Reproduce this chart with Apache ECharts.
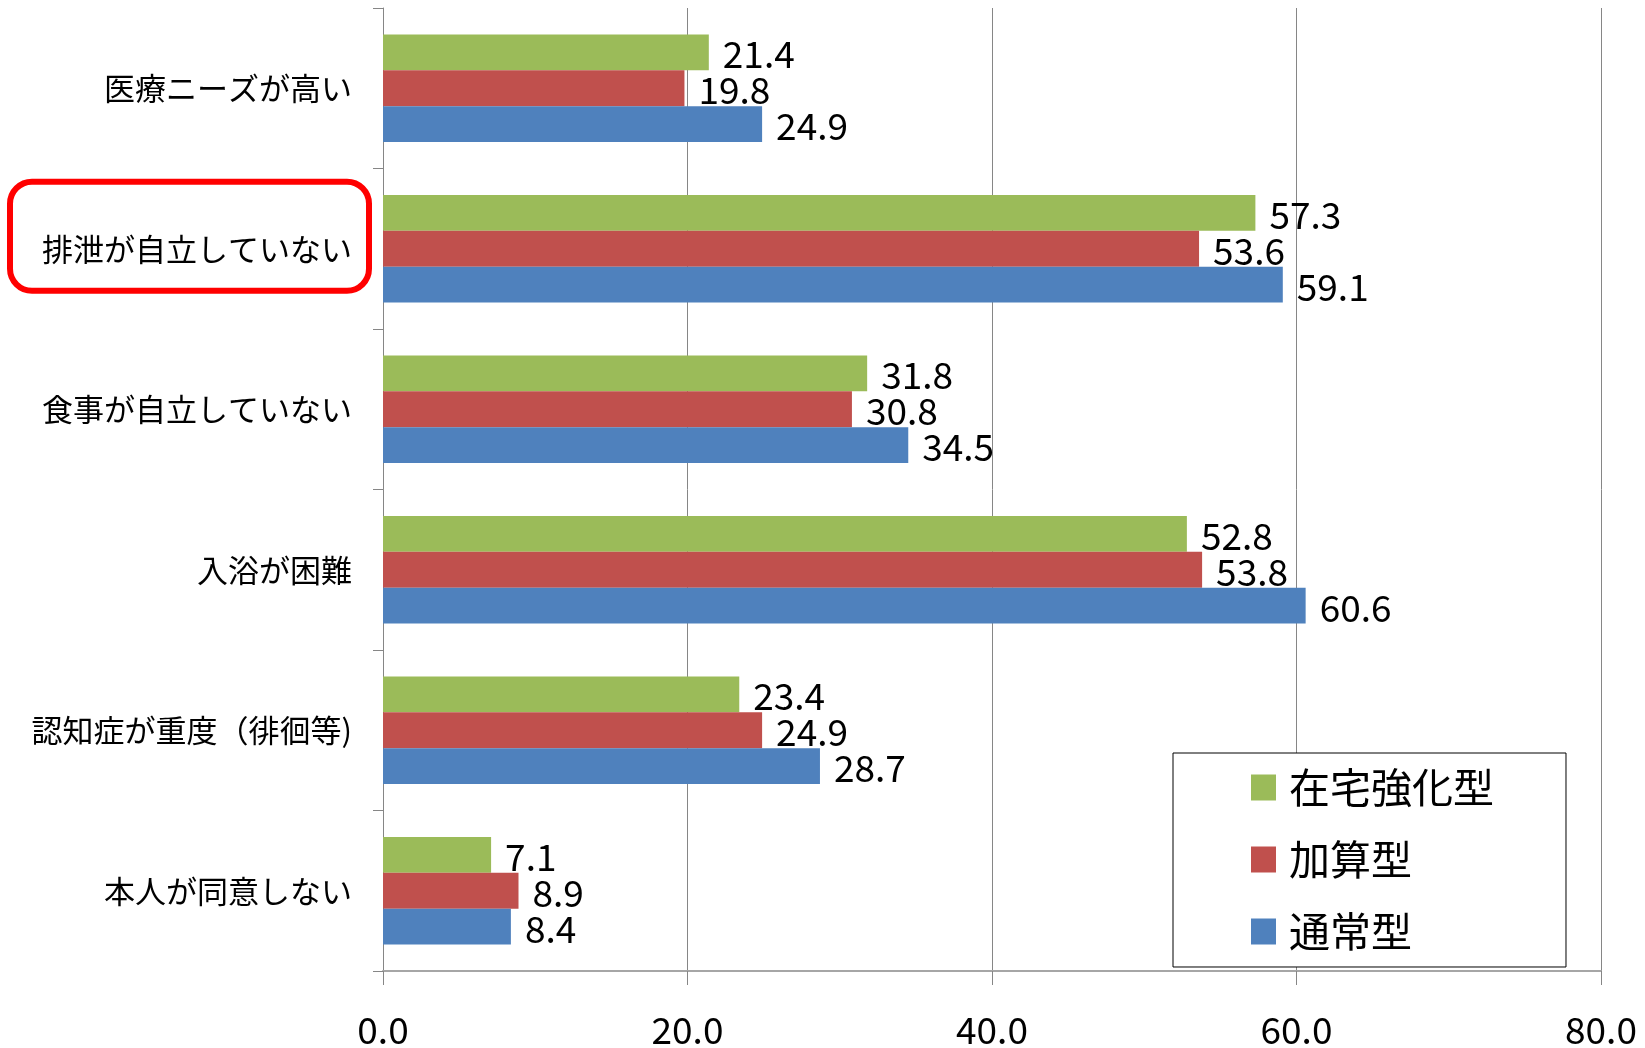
<!DOCTYPE html>
<html>
<head>
<meta charset="utf-8">
<script src="https://cdn.jsdelivr.net/npm/echarts@6/dist/echarts.min.js"></script>
<style>
html,body{margin:0;padding:0;background:#fff;}
#chart{width:1645px;height:1048px;}
</style>
</head>
<body>
<div id="chart"></div>
<script>
const categories = ['医療ニーズが高い', '排泄が自立していない', '食事が自立していない', '入浴が困難', '認知症が重度（徘徊等)', '本人が同意しない'];
const seriesNames = ['在宅強化型', '加算型', '通常型'];
const zaitaku = [21.4, 57.3, 31.8, 52.8, 23.4, 7.1];
const kasan = [19.8, 53.6, 30.8, 53.8, 24.9, 8.9];
const tsujo = [24.9, 59.1, 34.5, 60.6, 28.7, 8.4];
const xTicks = [0, 20, 40, 60, 80];
const highlightIndex = 1;

const colors = ['#9BBB59', '#C0504D', '#4F81BD'];
const FONT = '"Noto Sans CJK JP", "Noto Sans", sans-serif';

const chart = echarts.init(document.getElementById('chart'));

function mkSeries(name, data, color) {
  return {
    name: name,
    type: 'bar',
    data: data,
    itemStyle: { color: color },
    barGap: '0%',
    barCategoryGap: '33%',
    label: {
      show: true,
      position: 'right',
      distance: 14,
      offset: [0, 2],
      fontSize: 37,
      fontFamily: FONT,
      color: '#000',
      formatter: p => p.value.toFixed(1)
    }
  };
}

chart.setOption({
  animation: false,
  backgroundColor: '#fff',
  grid: { left: 383, right: 44, top: 8, bottom: 75, containLabel: false },
  xAxis: {
    type: 'value',
    min: xTicks[0],
    max: xTicks[xTicks.length - 1],
    interval: xTicks[1] - xTicks[0],
    axisLine: { show: true, lineStyle: { color: '#a6a6a6', width: 2 } },
    axisTick: { show: true, length: 14, lineStyle: { color: '#868686' } },
    splitLine: { show: true, lineStyle: { color: '#868686', width: 1 } },
    axisLabel: {
      margin: 40,
      fontSize: 37,
      fontFamily: FONT,
      color: '#000',
      formatter: v => v.toFixed(1)
    }
  },
  yAxis: {
    type: 'category',
    inverse: true,
    data: categories,
    axisLine: { show: true, lineStyle: { color: '#868686', width: 1 } },
    axisTick: { show: true, length: 10, lineStyle: { color: '#868686' } },
    axisLabel: {
      margin: 31,
      fontSize: 31,
      fontFamily: FONT,
      color: '#000'
    }
  },
  legend: {
    orient: 'vertical',
    left: 1173,
    top: 753,
    data: seriesNames,
    icon: 'rect',
    itemWidth: 25,
    itemHeight: 26,
    itemGap: 31,
    padding: [14, 72, 15, 78],
    backgroundColor: '#fff',
    borderColor: '#000',
    borderWidth: 1,
    textStyle: { fontSize: 41, fontFamily: FONT, color: '#000', padding: [0, 0, 0, 8] }
  },
  series: [
    mkSeries(seriesNames[0], zaitaku, colors[0]),
    mkSeries(seriesNames[1], kasan, colors[1]),
    mkSeries(seriesNames[2], tsujo, colors[2])
  ]
});

const cy = chart.convertToPixel({ yAxisIndex: 0 }, highlightIndex);
chart.setOption({
  graphic: [{
    type: 'rect',
    shape: { x: 10, y: cy - 67, width: 359, height: 109, r: 22 },
    style: { fill: 'none', stroke: '#ff0000', lineWidth: 6 },
    z: 100
  }]
});
</script>
</body>
</html>
